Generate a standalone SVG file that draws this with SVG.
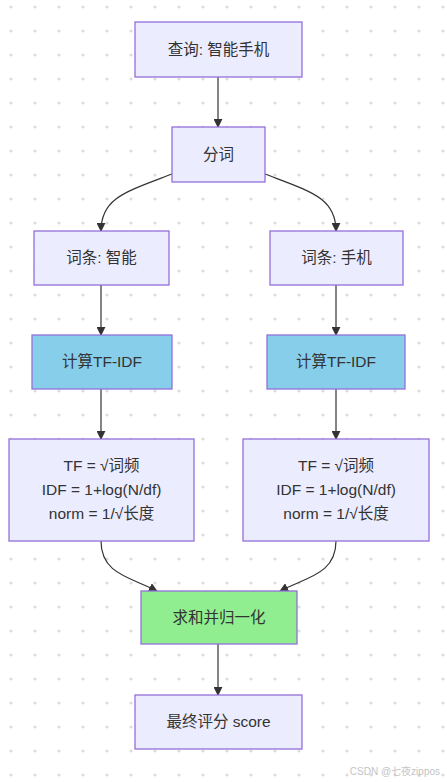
<svg xmlns="http://www.w3.org/2000/svg" width="447" height="782" viewBox="0 0 447 782">
<defs>
<pattern id="dots" x="11" y="7" width="24" height="24" patternUnits="userSpaceOnUse">
<circle cx="0" cy="0" r="1.6" fill="#dcdcdc"/>
<circle cx="24" cy="0" r="1.6" fill="#dcdcdc"/>
<circle cx="0" cy="24" r="1.6" fill="#dcdcdc"/>
<circle cx="24" cy="24" r="1.6" fill="#dcdcdc"/>
</pattern>
<marker id="arr" viewBox="0 0 10 10" refX="9" refY="5" markerWidth="9" markerHeight="9" markerUnits="userSpaceOnUse" orient="auto">
<path d="M0,0 L10,5 L0,10 z" fill="#333"/>
</marker>
<style>
.n{fill:#ECECFF;stroke:#9370DB;stroke-width:1.3}
.b{fill:#87CEEB;stroke:#9370DB;stroke-width:1.3}
.g{fill:#90EE90;stroke:#9370DB;stroke-width:1.3}
text{font-family:"Liberation Sans","Noto Sans CJK SC",sans-serif;font-size:15.5px;fill:#333;text-anchor:middle}
.e{fill:none;stroke:#333;stroke-width:1.2;marker-end:url(#arr)}
.wm{font-size:10px;fill:#c4c4c4;text-anchor:end}
</style>
</defs>
<rect width="447" height="782" fill="#fff"/>
<rect width="447" height="782" fill="url(#dots)"/>
<g id="edges">
<path class="e" d="M218,77 L218,127"/>
<path class="e" d="M172,174 C125,192 101,198 101,231"/>
<path class="e" d="M265,174 C312,192 336,198 336,231"/>
<path class="e" d="M101,285 L101,335"/>
<path class="e" d="M336,285 L336,335"/>
<path class="e" d="M101,389 L101,439"/>
<path class="e" d="M336,389 L336,439"/>
<path class="e" d="M101,541 C101,574 130,577 157,591"/>
<path class="e" d="M336,541 C336,574 307,577 280,591"/>
<path class="e" d="M218,644 L218,695"/>
</g>
<g id="query"><rect class="n" x="135" y="22" width="167" height="55"/><text x="218.5" y="55">查询: 智能手机</text></g>
<g id="seg"><rect class="n" x="172" y="127" width="93" height="55"/><text x="218.5" y="160">分词</text></g>
<g id="term1"><rect class="n" x="34" y="231" width="135" height="54"/><text x="101.5" y="263">词条: 智能</text></g>
<g id="term2"><rect class="n" x="270" y="231" width="133" height="54"/><text x="336.5" y="263">词条: 手机</text></g>
<g id="tfidf1"><rect class="b" x="32" y="335" width="140" height="54"/><text x="102" y="367">计算TF-IDF</text></g>
<g id="tfidf2"><rect class="b" x="267" y="335" width="138" height="54"/><text x="336" y="367">计算TF-IDF</text></g>
<g id="formula1"><rect class="n" x="9" y="439" width="185" height="102"/>
<text x="101.5" y="471">TF = √词频</text>
<text x="101.5" y="495">IDF = 1+log(N/df)</text>
<text x="101.5" y="519">norm = 1/√长度</text></g>
<g id="formula2"><rect class="n" x="243" y="439" width="186" height="102"/>
<text x="336" y="471">TF = √词频</text>
<text x="336" y="495">IDF = 1+log(N/df)</text>
<text x="336" y="519">norm = 1/√长度</text></g>
<g id="sum"><rect class="g" x="141" y="591" width="156" height="53"/><text x="219" y="623">求和并归一化</text></g>
<g id="final"><rect class="n" x="135" y="695" width="167" height="54"/><text x="218.5" y="727">最终评分 score</text></g>
<text class="wm" x="440" y="775">CSDN @七夜zippos</text>
</svg>
